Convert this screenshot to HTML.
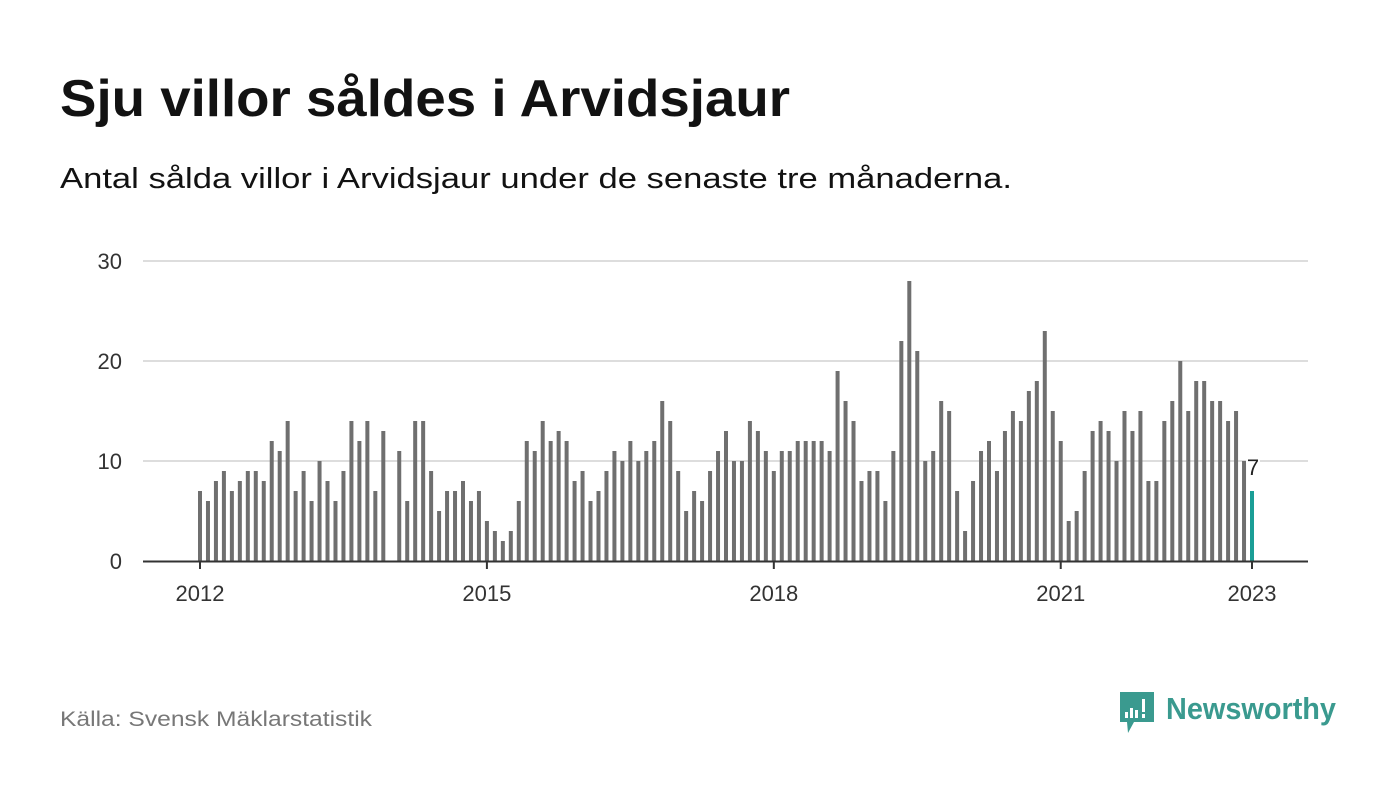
<!DOCTYPE html>
<html><head><meta charset="utf-8"><style>
html,body{margin:0;padding:0;background:#fff;}
svg{display:block;font-family:"Liberation Sans",sans-serif;}
</style></head><body>
<svg id="chart" width="1400" height="794" viewBox="0 0 1400 794">
<text x="60" y="116" font-size="52" font-weight="bold" fill="#121212" textLength="730" lengthAdjust="spacingAndGlyphs">Sju villor såldes i Arvidsjaur</text>
<text x="60" y="188" font-size="29" fill="#121212" textLength="952" lengthAdjust="spacingAndGlyphs">Antal sålda villor i Arvidsjaur under de senaste tre månaderna.</text>
<g id="grid"></g>
<g id="bars"></g>
<g id="axes"></g>
<text x="60" y="726" font-size="21" fill="#777" textLength="312" lengthAdjust="spacingAndGlyphs">Källa: Svensk Mäklarstatistik</text>
<g>
<path d="M1120 692 h34 v30 h-20 l-6 11 l-1 -11 h-7 z" fill="#3a9a8f"/>
<rect x="1125" y="712" width="3" height="6" fill="#fff"/><rect x="1130" y="708" width="3" height="10" fill="#fff"/><rect x="1135" y="710" width="3" height="8" fill="#fff"/><rect x="1142" y="699" width="3" height="13" fill="#fff"/><rect x="1142" y="714" width="3" height="4" fill="#fff"/>
<text x="1166" y="719" font-size="31" font-weight="bold" fill="#3a9a8f" textLength="170" lengthAdjust="spacingAndGlyphs">Newsworthy</text>
</g>
</svg>
<script>
const values = [7,6,8,9,7,8,9,9,8,12,11,14,
7,9,6,10,8,6,9,14,12,14,7,13,
0,11,6,14,14,9,5,7,7,8,6,7,
4,3,2,3,6,12,11,14,12,13,12,8,
9,6,7,9,11,10,12,10,11,12,16,14,
9,5,7,6,9,11,13,10,10,14,13,11,
9,11,11,12,12,12,12,11,19,16,14,8,
9,9,6,11,22,28,21,10,11,16,15,7,
3,8,11,12,9,13,15,14,17,18,23,15,
12,4,5,9,13,14,13,10,15,13,15,8,
8,14,16,20,15,18,18,16,16,14,15,10,
7];
const yTicks = [0,10,20,30];
const xTickLabels = ["2012","2015","2018","2021","2023"];
const xTickIndex = [0,36,72,108,132];
const lastLabel = "7";

const NS="http://www.w3.org/2000/svg";
const x = i => 200 + i*(1252-200)/132;
const y = v => 561 - v*10;
function mk(tag, attrs, parent){const e=document.createElementNS(NS,tag);for(const k in attrs)e.setAttribute(k,attrs[k]);parent.appendChild(e);return e;}
const grid=document.getElementById('grid'), bars=document.getElementById('bars'), axes=document.getElementById('axes');
yTicks.forEach(t=>{
  if(t>0){const l=mk('line',{x1:143,x2:1308,y1:y(t),y2:y(t),stroke:'#ddd','stroke-width':2},grid);
  
  }
  const tx=mk('text',{x:122,y:y(t)+8,'text-anchor':'end','font-size':22,fill:'#333'},axes);
  tx.textContent=t;
  
  
});
values.forEach((v,i)=>{
  if(v<=0) return;
  const last=i===values.length-1;
  const r=mk('rect',{x:x(i)-2,y:y(v),width:4,height:v*10,fill:last?'#1a9e96':'#6f6f6f'},bars);
  
  
});
const base=mk('line',{x1:143,x2:1308,y1:561.5,y2:561.5,stroke:'#333','stroke-width':2},axes);


xTickIndex.forEach((idx,k)=>{
  mk('line',{x1:x(idx),x2:x(idx),y1:561,y2:569,stroke:'#333','stroke-width':2},axes);
  const t=mk('text',{x:x(idx),y:601,'text-anchor':'middle','font-size':22,fill:'#333'},axes);
  t.textContent=xTickLabels[k];
  
  
});
const li=values.length-1;
const lab=mk('text',{x:x(li)+1,y:y(values[li])-16,'text-anchor':'middle','font-size':22,fill:'#222',stroke:'#fff','stroke-width':4,'paint-order':'stroke'},axes);
lab.textContent=lastLabel;


</script>
</body></html>
